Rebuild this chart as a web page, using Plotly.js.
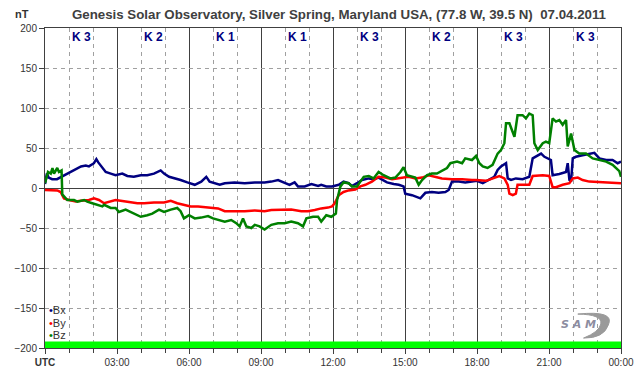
<!DOCTYPE html>
<html><head><meta charset="utf-8">
<script src="https://cdn.plot.ly/plotly-3.0.1.min.js"></script>
<style>html,body{margin:0;padding:0;background:#fff}#chart{width:642px;height:376px}</style>
</head><body><div id="chart"></div>
<script>
// Hours of day (UTC)
const tBx = [0,0.08,0.15,0.3,0.5,0.7,0.93,1.2,1.5,1.7,1.83,2.04,2.14,2.22,2.4,2.53,2.74,2.94,3.22,3.43,3.7,3.99,4.26,4.54,4.82,4.96,5.17,5.44,5.65,5.93,
 6.24,6.51,6.72,6.86,7.07,7.28,7.49,7.9,8.32,8.74,9.15,9.43,9.71,9.99,10.19,10.4,10.54,10.82,11.1,11.38,11.51,11.72,11.96,
 12.24,12.44,12.65,12.79,13.0,13.21,13.49,13.69,13.9,14.04,14.25,14.53,14.74,14.94,15.01,15.29,15.5,15.64,15.85,16.12,16.4,16.68,16.82,16.96,17.24,17.51,17.79,18.0,
 18.24,18.51,18.72,18.86,19.0,19.21,19.28,19.42,19.62,19.9,20.18,20.32,20.46,20.67,20.81,20.94,21.08,21.15,21.43,21.71,21.78,21.85,21.92,21.99,22.12,22.4,22.68,22.89,23.1,23.38,23.65,23.86,24.0];
const Bx = [5,18,13,11,11,14,18,22,27,28,27,31,36,32,25,20,18,16,18,15,14,16,16,18,22,18,14,12,10,7,
 4,8,14,8,6,4,6,7,6,7,7,8,10,6,4,7,2,2,5,2.5,4,2,2,
 4,8,6,2.5,6,10,12,11,13,11,7,5,4,2,-7,-9,-12,-13,-6,-5,-6,-5,-2.5,8,8,7,8,9,
 6,10,14,22.5,27,31,12,10,12,11,14,37,39,43,39,37,35,16,17.5,20,31,10,8,37,39,41,43,44,37,35,35,31,33];

const tBy = [0,0.51,0.65,0.79,1.0,1.28,1.49,1.83,2.04,2.25,2.46,2.74,2.94,3.15,3.57,3.85,4.13,4.54,4.96,5.24,5.51,5.79,6.07,
 6.38,6.79,7.21,7.49,7.9,8.32,8.74,9.15,9.43,9.85,10.26,10.68,10.96,11.24,11.51,11.79,11.96,12.07,12.1,12.24,12.44,12.65,12.93,13.14,13.35,13.62,13.9,14.18,14.46,14.74,14.94,15.15,15.43,15.71,15.99,16.26,16.54,16.96,17.38,17.79,
 17.96,18.38,18.65,18.93,19.14,19.28,19.35,19.49,19.62,19.69,19.9,20.18,20.32,20.74,21.01,21.15,21.29,21.57,21.85,21.99,22.2,22.4,22.68,23.1,23.51,24.0];
const By = [-2.5,-3,-5,-13,-15,-17,-16,-15,-13,-15,-19,-17,-15,-16,-18,-19,-19,-18,-18,-16,-19,-21,-23,
 -23,-24,-25.5,-29,-29,-29,-28,-29,-27.5,-27.5,-27,-29,-29,-27.5,-25.5,-24.5,-23,-19,-17,-9,-5,-3,-2,2,4,8,14,13,11,12,13,14,12,13,16,14,12,11,11,10,
 10,9,12,15,12,4,-7,-9,-7,4,4,4,15,16,15,1,1,4,6,12,13,10,8,7.5,7,6];

const tBz = [0,0.125,0.24,0.31,0.375,0.51,0.58,0.69,0.72,0.93,1.21,1.35,1.63,1.76,1.97,2.18,2.39,2.46,2.74,2.94,3.08,3.36,3.57,3.78,3.99,4.26,4.47,4.75,4.96,5.24,5.51,5.65,5.79,6.0,
 6.24,6.51,6.79,7.0,7.21,7.49,7.76,7.97,8.11,8.25,8.39,8.6,8.74,8.94,9.15,9.43,9.71,9.99,10.26,10.54,10.75,10.89,11.17,11.38,11.51,11.72,11.93,12.12,
 12.17,12.31,12.44,12.65,12.79,13.0,13.14,13.28,13.49,13.69,13.9,14.11,14.39,14.6,14.81,14.94,15.08,15.29,15.43,15.57,15.71,15.92,16.12,16.33,16.54,16.75,16.89,17.17,17.38,17.51,17.79,17.96,
 18.1,18.24,18.44,18.65,18.86,19.0,19.14,19.21,19.35,19.56,19.69,19.9,20.04,20.18,20.32,20.39,20.53,20.74,20.87,21.01,21.15,21.29,21.43,21.57,21.71,21.78,21.92,22.06,22.26,22.54,22.82,23.1,23.38,23.65,23.79,23.93,24.0];
const Bz = [6,20,18,25,18,25,20,22,-8,-15,-15,-17,-15,-17,-19,-21,-23,-21,-25,-25,-30,-27,-30,-32,-36,-34,-32,-27,-30,-27,-25,-29,-38,-34,
 -38,-37,-35,-38,-40,-42,-40,-44,-48,-38,-48,-50,-46,-48,-52,-46,-44,-44,-42,-44,-48,-38,-36,-36,-42,-34,-36,-32,
 -15,2,7,6,2,2,8,14,15,12,20,16,12,13,20,26,16,14,13,4,10,16,18,18,22,25,31,33,31,37,35,40,
 31,27,25,29,43,47.5,56,81,81,64,91,91,87,93,91,56,47.5,56,58,56,87,83,85,79,85,52,68,47.5,43,43,37,35,33,29,25,21,14];

const hourTicks = [0,3,6,9,12,15,18,21,24];
const hourLabels = ['<b>UTC</b>','03:00','06:00','09:00','12:00','15:00','18:00','21:00','00:00'];
const kCenters = [1.5,4.5,7.5,10.5,13.5,16.5,19.5,22.5];
const kValues = [3,2,1,1,3,2,3,3];
const seriesNames = ['Bx','By','Bz'];
const seriesColors = ['#000080','#ff0000','#008000'];
const titleText = 'Genesis Solar Observatory, Silver Spring, Maryland USA, (77.8 W, 39.5 N)&nbsp;&nbsp;07.04.2011';

const axisCol = '#404040';
const traces = [[tBx,Bx],[tBy,By],[tBz,Bz]].map((d,i)=>({
  x:d[0], y:d[1], type:'scatter', mode:'lines', name:seriesNames[i],
  line:{color:seriesColors[i], width:2.5}, showlegend:false, hoverinfo:'skip'
}));

const F = 'Liberation Sans, Arial, sans-serif';
const annotations = kCenters.map((c,i)=>({
  x:c, xref:'x', y:0.972, yref:'paper', xanchor:'center', yanchor:'middle', text:'<b>K '+kValues[i]+'</b>', showarrow:false,
  font:{family:F, size:12, color:'#000080'}
}));
annotations.push({x:-0.04, xref:'paper', y:1.044, yref:'paper', xanchor:'center', yanchor:'middle', text:'<b>nT</b>', showarrow:false,
  font:{family:F, size:11, color:'#333'}});
const legY = [-153,-169,-184];
seriesNames.forEach((n,i)=>{
  annotations.push({x:0.004, xref:'paper', y:legY[i], yref:'y', xanchor:'left', yanchor:'middle', showarrow:false,
    text:'<span style="color:'+seriesColors[i]+'">•</span>'+n,
    font:{family:F, size:11, color:'#333'}});
});
annotations.push({x:0.927, xref:'paper', y:0.072, yref:'paper', xanchor:'center', yanchor:'middle', showarrow:false,
  text:'<i><b>S A M</b></i>', font:{family:'DejaVu Sans, sans-serif', size:11, color:'#8c8ca0'}});

const layout = {
  width:642, height:376,
  margin:{l:45, r:21, t:28, b:28},
  paper_bgcolor:'#fff', plot_bgcolor:'#fff',
  font:{family:F, size:10, color:'#333'},
  title:{text:'<b>'+titleText+'</b>', x:0.528, xref:'container', xanchor:'center', y:0.963, yref:'container', yanchor:'middle',
    font:{family:F, size:13.3, color:'#404040'}},
  xaxis:{range:[0,24], tickmode:'array', tickvals:hourTicks, ticktext:hourLabels,
    showgrid:true, gridcolor:axisCol, gridwidth:1, zeroline:false,
    showline:true, linecolor:axisCol, linewidth:1, mirror:true,
    ticks:'outside', ticklen:5, tickcolor:axisCol,
    minor:{tickmode:'linear', tick0:0, dtick:1, showgrid:true, gridcolor:'#a0a0a0', griddash:'4px,4px', gridwidth:1, ticks:'outside', ticklen:4, tickcolor:axisCol},
    fixedrange:true},
  yaxis:{range:[-200,200], dtick:50, tick0:0, showgrid:true, gridcolor:'#a0a0a0', griddash:'4px,4px', gridwidth:1,
    zeroline:true, zerolinecolor:axisCol, zerolinewidth:1,
    showline:true, linecolor:axisCol, linewidth:1, mirror:true,
    ticks:'outside', ticklen:5, tickcolor:axisCol, fixedrange:true},
  shapes:[
    {type:'rect', xref:'x', yref:'y', x0:0, x1:24, y0:-200, y1:-192, fillcolor:'#00ff00', line:{width:0}, layer:'above'},
    {type:'path', xref:'paper', yref:'paper', path:'M 0.925,0.106 Q 0.99,0.118 0.978,0.072 Q 0.97,0.03 0.935,0.031 Q 0.962,0.05 0.965,0.075 Q 0.968,0.105 0.925,0.106 Z', fillcolor:'#9a9a9a', line:{color:'#9a9a9a', width:1}, layer:'above'}
  ],
  annotations:annotations,
  showlegend:false
};
Plotly.newPlot('chart', traces, layout, {staticPlot:true, displayModeBar:false});
</script></body></html>
